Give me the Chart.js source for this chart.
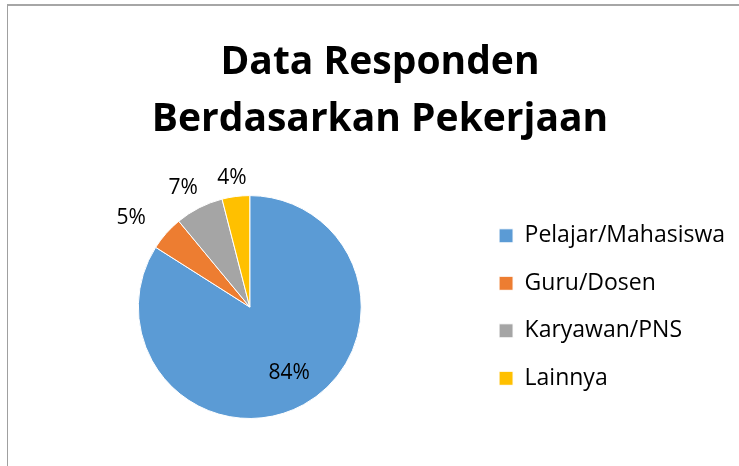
<!DOCTYPE html>
<html>
<head>
<meta charset="utf-8">
<script src="https://cdn.jsdelivr.net/npm/chart.js@4/dist/chart.umd.min.js"></script>
<style>
  body { margin: 0; background: #fff; }
  #frame {
    position: absolute; left: 7px; top: 4px; width: 740px; height: 470px;
    border-left: 1px solid #a0a0a0; border-top: 2px solid #a6a6a6;
  }
  #chart { position: absolute; left: 0; top: 0; }
</style>
</head>
<body>
<div id="frame"></div>
<canvas id="chart" width="739" height="466"></canvas>
<script>
const titleLines = ['Data Responden', 'Berdasarkan Pekerjaan'];
const categories = ['Pelajar/Mahasiswa', 'Guru/Dosen', 'Karyawan/PNS', 'Lainnya'];
const percentages = [84, 5, 7, 4];
const sliceColors = ['#5B9BD5', '#ED7D31', '#A5A5A5', '#FFC000'];

const fontFamily = '"Open Sans", Lato, sans-serif';

// Draw the percentage labels: big slice inside, small ones outside
const sliceLabels = {
  id: 'sliceLabels',
  afterDatasetsDraw(chart) {
    const ctx = chart.ctx;
    const arcs = chart.getDatasetMeta(0).data;
    ctx.save();
    ctx.font = '21px ' + fontFamily;
    ctx.fillStyle = '#000';
    ctx.textAlign = 'center';
    ctx.textBaseline = 'middle';
    arcs.forEach((arc, i) => {
      const p = arc.getProps(['x', 'y', 'startAngle', 'endAngle', 'outerRadius'], true);
      const mid = (p.startAngle + p.endAngle) / 2;
      const text = percentages[i] + '%';
      const cx = Math.cos(mid), cy = Math.sin(mid);
      let x, y;
      if (i === 0) {
        const d = p.outerRadius * 0.68;
        x = p.x + cx * d + 3;
        y = p.y + cy * d;
      } else {
        const w = ctx.measureText(text).width / 2, h = 13;
        const d = p.outerRadius + 4 + Math.abs(cx) * w + Math.abs(cy) * h;
        // side labels spread out sideways a bit more
        x = p.x + cx * d + cx * (13 + 40 * Math.max(0, Math.abs(cx) - 0.5));
        y = p.y + cy * d;
      }
      ctx.fillText(text, x, y);
    });
    ctx.restore();
  }
};

new Chart(document.getElementById('chart'), {
  type: 'pie',
  data: {
    labels: categories,
    datasets: [{
      data: percentages,
      backgroundColor: sliceColors,
      borderColor: '#fff',
      borderWidth: 1
    }]
  },
  options: {
    responsive: false,
    animation: false,
    layout: { padding: { left: 25, right: 4, bottom: 47, top: 0 } },
    plugins: {
      title: {
        display: true,
        text: titleLines,
        color: '#000',
        font: { family: fontFamily, size: 39, weight: 'bold', lineHeight: 1.45 },
        padding: { top: 35, bottom: 47 }
      },
      legend: {
        position: 'right',
        fullSize: false,
        labels: {
          boxWidth: 14,
          boxHeight: 14,
          padding: 24.5,
          color: '#000',
          font: { family: fontFamily, size: 23 }
        }
      },
      tooltip: { enabled: false }
    }
  },
  plugins: [sliceLabels]
});
</script>
</body>
</html>
